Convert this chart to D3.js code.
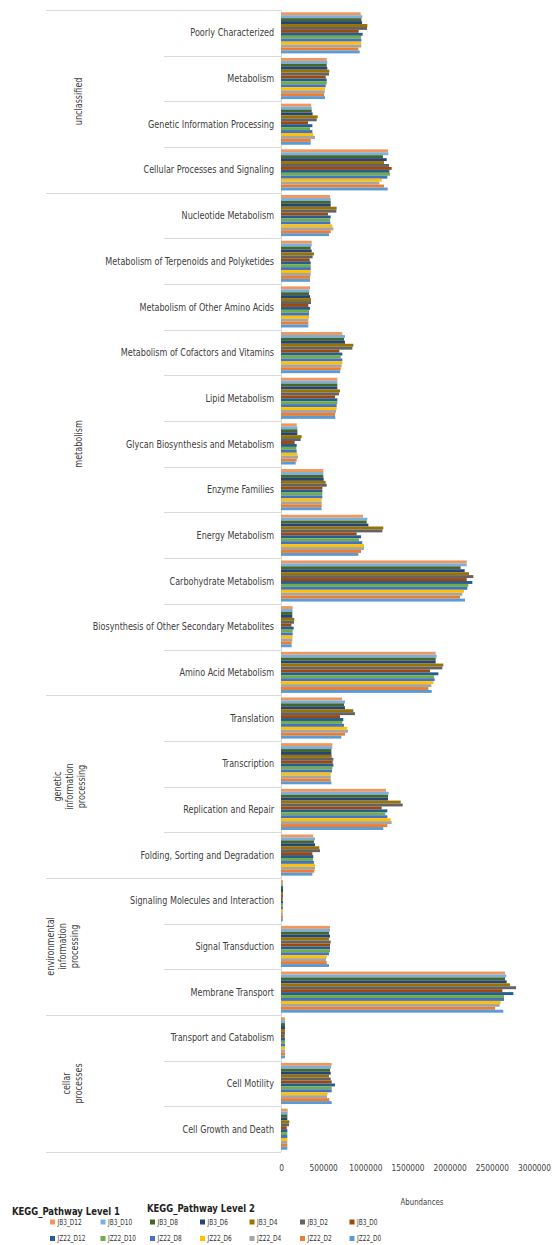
<!DOCTYPE html>
<html>
<head>
<meta charset="utf-8">
<script src="https://cdn.jsdelivr.net/npm/d3@7"></script>
<style>
  html, body { margin: 0; padding: 0; background: #fff; }
  svg { display: block; }
  text { font-family: "DejaVu Sans Condensed", "DejaVu Sans", "Liberation Sans", Arial, sans-serif; }
</style>
</head>
<body>
<div id="chart"></div>
<script>
// KEGG level-2 pathways, top to bottom
const categories = [
  "Poorly Characterized", "Metabolism", "Genetic Information Processing", "Cellular Processes and Signaling",
  "Nucleotide Metabolism", "Metabolism of Terpenoids and Polyketides", "Metabolism of Other Amino Acids",
  "Metabolism of Cofactors and Vitamins", "Lipid Metabolism", "Glycan Biosynthesis and Metabolism",
  "Enzyme Families", "Energy Metabolism", "Carbohydrate Metabolism",
  "Biosynthesis of Other Secondary Metabolites", "Amino Acid Metabolism",
  "Translation", "Transcription", "Replication and Repair", "Folding, Sorting and Degradation",
  "Signaling Molecules and Interaction", "Signal Transduction", "Membrane Transport",
  "Transport and Catabolism", "Cell Motility", "Cell Growth and Death"
];

// KEGG level-1 groups: label lines and number of level-2 pathways in each
const groupNames = [["unclassified"], ["metabolism"], ["genetic", "information", "processing"],
  ["environmental", "information", "processing"], ["cellar", "processes"]];
const groupSizes = [4, 11, 4, 3, 3];

// Samples (legend order, also top-to-bottom order of bars in each group)
const seriesNames = ["JB3_D12", "JB3_D10", "JB3_D8", "JB3_D6", "JB3_D4", "JB3_D2", "JB3_D0",
  "JZ22_D12", "JZ22_D10", "JZ22_D8", "JZ22_D6", "JZ22_D4", "JZ22_D2", "JZ22_D0"];
const seriesColors = ["#F1975A", "#7CAFDD", "#43682B", "#264478", "#997300", "#636363", "#9E480E",
  "#255E91", "#70AD47", "#4472C4", "#FFC000", "#A5A5A5", "#ED7D31", "#5B9BD5"];

// Abundances per sample, one value per pathway (same order as categories)
const JB3_D12  = [945000, 542000, 356000, 1269000, 581000, 364000, 344000, 727000, 668000, 186000, 502000, 972000, 2202000, 138000, 1834000, 723000, 609000, 1245000, 383000, 24000, 581000, 2656000, 47000, 601000, 79000];
const JB3_D10  = [964000, 549000, 364000, 1273000, 589000, 364000, 336000, 759000, 668000, 194000, 502000, 1024000, 2202000, 138000, 1846000, 759000, 609000, 1277000, 403000, 24000, 581000, 2672000, 47000, 593000, 79000];
const JB3_D8   = [953000, 542000, 364000, 1209000, 589000, 352000, 332000, 747000, 668000, 194000, 502000, 1016000, 2130000, 134000, 1834000, 747000, 597000, 1269000, 391000, 24000, 569000, 2656000, 47000, 581000, 75000];
const JB3_D6   = [960000, 549000, 375000, 1253000, 589000, 364000, 344000, 759000, 668000, 194000, 506000, 1036000, 2178000, 134000, 1834000, 759000, 597000, 1269000, 403000, 24000, 581000, 2676000, 47000, 589000, 75000];
const JB3_D4   = [1024000, 573000, 435000, 1221000, 660000, 391000, 356000, 858000, 700000, 245000, 530000, 1213000, 2229000, 158000, 1925000, 858000, 601000, 1419000, 455000, 24000, 569000, 2715000, 47000, 569000, 99000];
const JB3_D2   = [1020000, 569000, 423000, 1281000, 656000, 375000, 356000, 846000, 688000, 233000, 542000, 1202000, 2281000, 154000, 1913000, 877000, 621000, 1443000, 462000, 24000, 589000, 2787000, 47000, 589000, 95000];
const JB3_D0   = [921000, 530000, 320000, 1312000, 557000, 340000, 324000, 692000, 640000, 162000, 490000, 897000, 2202000, 123000, 1767000, 700000, 613000, 1194000, 372000, 20000, 581000, 2625000, 43000, 601000, 67000];
const JZ22_D12 = [968000, 542000, 372000, 1285000, 589000, 352000, 344000, 727000, 668000, 186000, 490000, 949000, 2269000, 150000, 1866000, 739000, 621000, 1261000, 383000, 24000, 581000, 2755000, 47000, 640000, 75000];
const JZ22_D10 = [949000, 542000, 344000, 1292000, 581000, 352000, 332000, 708000, 668000, 182000, 490000, 925000, 2221000, 138000, 1814000, 727000, 609000, 1237000, 379000, 22000, 581000, 2644000, 47000, 601000, 75000];
const JZ22_D8  = [953000, 530000, 372000, 1261000, 585000, 352000, 332000, 727000, 660000, 186000, 490000, 964000, 2209000, 138000, 1822000, 747000, 605000, 1261000, 391000, 22000, 569000, 2644000, 47000, 601000, 75000];
const JZ22_D6  = [949000, 522000, 383000, 1194000, 609000, 352000, 332000, 727000, 660000, 194000, 482000, 984000, 2170000, 138000, 1806000, 787000, 589000, 1300000, 403000, 24000, 542000, 2605000, 47000, 553000, 75000];
const JZ22_D4  = [953000, 518000, 403000, 1166000, 621000, 352000, 324000, 719000, 652000, 202000, 482000, 984000, 2150000, 134000, 1783000, 794000, 589000, 1312000, 403000, 22000, 534000, 2593000, 47000, 545000, 75000];
const JZ22_D2  = [917000, 510000, 352000, 1221000, 589000, 344000, 324000, 708000, 640000, 186000, 482000, 949000, 2123000, 126000, 1747000, 759000, 589000, 1261000, 395000, 22000, 542000, 2538000, 47000, 573000, 75000];
const JZ22_D0  = [933000, 522000, 352000, 1265000, 569000, 344000, 324000, 700000, 644000, 174000, 482000, 917000, 2182000, 126000, 1787000, 715000, 597000, 1213000, 372000, 22000, 569000, 2636000, 47000, 601000, 75000];

const xTicks = [0, 500000, 1000000, 1500000, 2000000, 2500000, 3000000];

const seriesValues = [JB3_D12, JB3_D10, JB3_D8, JB3_D6, JB3_D4, JB3_D2, JB3_D0,
  JZ22_D12, JZ22_D10, JZ22_D8, JZ22_D6, JZ22_D4, JZ22_D2, JZ22_D0];

const W = 554, H = 1245;
const plotTop = 10, plotBottom = 1152, axisX = 281, plotRight = 534;
const level2Left = 164, level1Left = 46;
const groupLabelX = [78, 78, 57, 50, 66];   // x of the first line of each level-1 label
const lineGap = 12.2;
const gridColor = "#d9d9d9", textColor = "#404040";
const squeeze = 0.88; // horizontal text compression for a narrow face

const svg = d3.select("#chart").append("svg")
  .attr("width", W).attr("height", H);

const x = d3.scaleLinear().domain([0, 3000000]).range([axisX, plotRight]);
const y0 = d3.scaleBand().domain(categories).range([plotTop, plotBottom])
  .paddingInner(0.1).paddingOuter(0.05);
const y1 = d3.scaleBand().domain(seriesNames).range([0, y0.bandwidth()]);
const color = d3.scaleOrdinal().domain(seriesNames).range(seriesColors);
const step = y0.step();

// category boundary lines; level-1 group boundaries extend further left
const groupStarts = [0];
groupSizes.forEach((n, i) => groupStarts.push(groupStarts[i] + n));
const boundaries = d3.range(categories.length + 1).map(i => ({
  y: plotTop + i * step,
  major: groupStarts.includes(i)
}));
svg.append("g").selectAll("line").data(boundaries).join("line")
  .attr("x1", d => d.major ? level1Left : level2Left)
  .attr("x2", axisX)
  .attr("y1", d => Math.round(d.y) + 0.5).attr("y2", d => Math.round(d.y) + 0.5)
  .attr("stroke", gridColor).attr("stroke-width", 1);

// vertical category axis line
svg.append("line")
  .attr("x1", axisX + 0.5).attr("x2", axisX + 0.5)
  .attr("y1", plotTop).attr("y2", plotBottom)
  .attr("stroke", gridColor);

// bars
const rows = categories.map((c, ci) => ({
  category: c,
  values: seriesNames.map((s, si) => ({ series: s, value: seriesValues[si][ci] }))
}));
svg.append("g").selectAll("g").data(rows).join("g")
  .attr("transform", d => `translate(0,${y0(d.category)})`)
  .selectAll("rect").data(d => d.values).join("rect")
  .attr("x", x(0))
  .attr("y", d => y1(d.series))
  .attr("width", d => x(d.value) - x(0))
  .attr("height", y1.bandwidth())
  .attr("fill", d => color(d.series));

// level-2 labels
svg.append("g").selectAll("text").data(categories).join("text")
  .attr("transform", d => `translate(274,${y0(d) + y0.bandwidth() / 2}) scale(${squeeze},1)`)
  .attr("dy", "0.35em")
  .attr("text-anchor", "end")
  .attr("font-size", 10.2)
  .attr("fill", textColor)
  .text(d => d);

// level-1 labels (rotated, read bottom to top)
const groupCenters = groupSizes.map((n, i) => plotTop + (groupStarts[i] + n / 2) * step);
const gl = svg.append("g").selectAll("text").data(groupNames).join("text")
  .attr("transform", (d, i) => `translate(${groupLabelX[i]},${groupCenters[i]}) rotate(-90) scale(${squeeze},1)`)
  .attr("text-anchor", "middle")
  .attr("font-size", 10.2)
  .attr("fill", textColor);
gl.selectAll("tspan").data(d => d).join("tspan")
  .attr("x", 0)
  .attr("dy", (d, i) => i === 0 ? "0.35em" : lineGap)
  .text(d => d);

// value axis
const xAxis = d3.axisBottom(x).tickValues(xTicks).tickSize(0).tickPadding(0).tickFormat(d3.format("d"));
const ax = svg.append("g").attr("transform", `translate(0,${plotBottom + 16})`).call(xAxis);
ax.select(".domain").remove();
ax.selectAll("text")
  .attr("y", 0).attr("dy", "0.35em")
  .attr("transform", `scale(${squeeze},1)`)
  .attr("font-size", 9.4).attr("fill", textColor)
  .style("font-family", "'DejaVu Sans Condensed', 'DejaVu Sans', Arial, sans-serif");

// axis title
svg.append("text")
  .attr("transform", `translate(422,1202) scale(${squeeze},1)`)
  .attr("dy", "0.35em").attr("text-anchor", "middle")
  .attr("font-size", 8.8).attr("fill", textColor).text("Abundances");

// field titles
svg.append("text").attr("transform", `translate(12,1215) scale(0.84,1)`)
  .attr("font-size", 11.2).attr("font-weight", "bold")
  .attr("fill", "#222").text("KEGG_Pathway Level 1");
svg.append("text").attr("transform", `translate(147,1212) scale(0.84,1)`)
  .attr("font-size", 11.2).attr("font-weight", "bold")
  .attr("fill", "#222").text("KEGG_Pathway Level 2");

// legend
const legendX = [50, 100.5, 150, 200, 249.5, 300, 349.5];
const legend = svg.append("g").selectAll("g").data(seriesNames).join("g")
  .attr("transform", (d, i) => `translate(${legendX[i % 7]},${i < 7 ? 1222 : 1238.5})`);
legend.append("rect").attr("x", 0).attr("y", -2.5).attr("width", 5).attr("height", 5)
  .attr("fill", d => color(d));
legend.append("text")
  .attr("transform", "translate(7.5,0) scale(0.78,1)")
  .attr("dy", "0.35em").attr("font-size", 8.3)
  .attr("fill", "#333").text(d => d);
</script>
</body>
</html>
